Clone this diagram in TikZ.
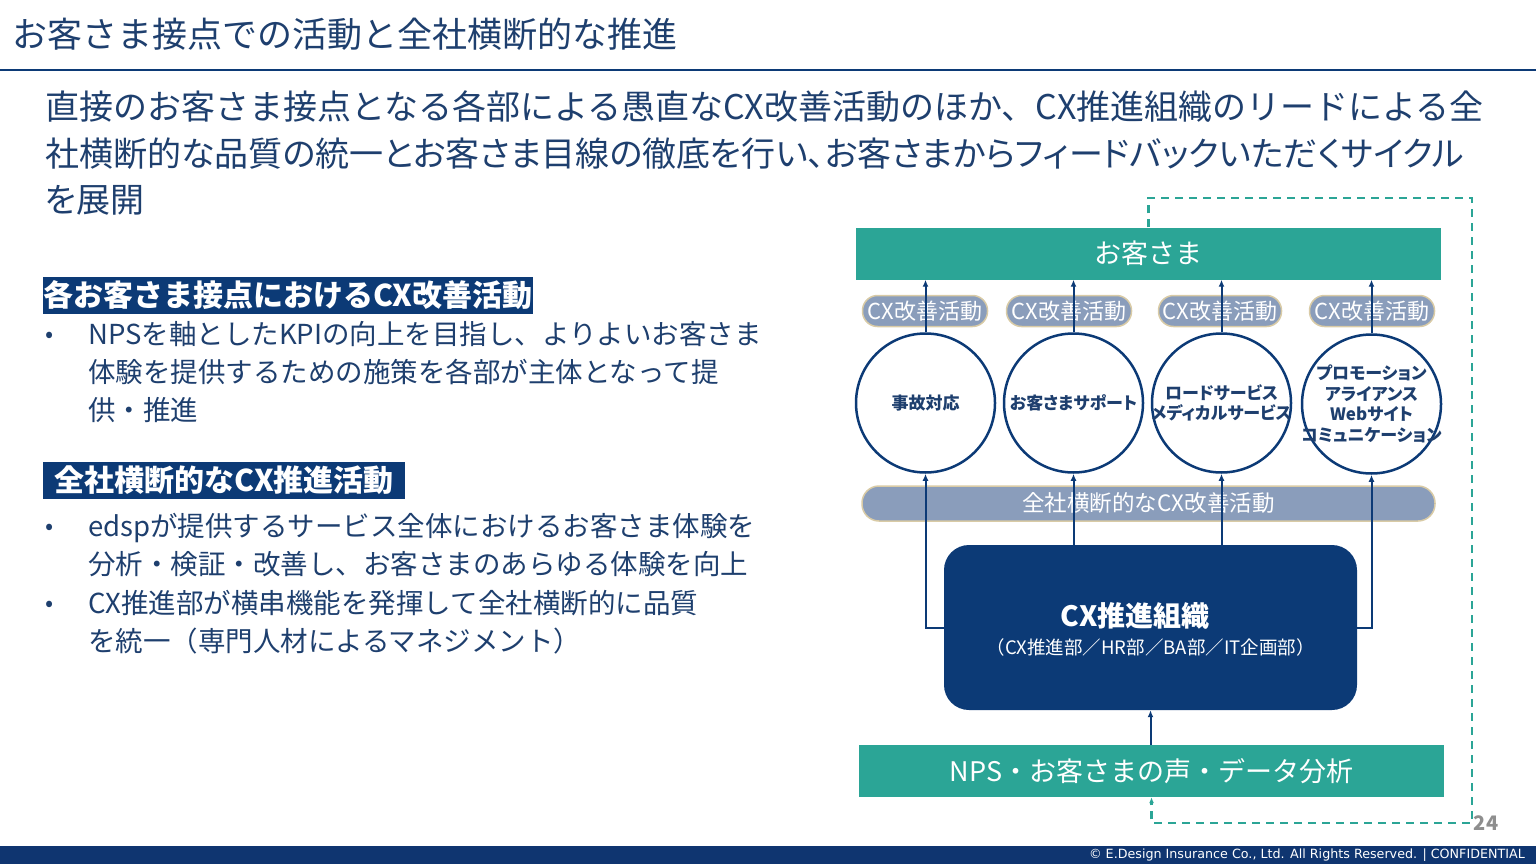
\documentclass[tikz,border=0pt]{standalone}
\usepackage{fontspec}
\setmainfont{Noto Sans CJK JP}
\newfontfamily\kanafont[RawFeature=+palt]{Noto Sans CJK JP}
\newfontfamily\footfont{DejaVu Sans}
\usetikzlibrary{arrows.meta, positioning}
\usepackage{xcolor}

\definecolor{navytext}{HTML}{1E3F6E}
\definecolor{navybox}{HTML}{0C3A76}
\definecolor{custteal}{HTML}{2BA596}
\definecolor{pillfill}{HTML}{8A9DBB}
\definecolor{pillrim}{HTML}{D9CBA6}
\definecolor{footbar}{HTML}{0F3570}
\definecolor{pagegray}{HTML}{8E8E8E}

\tikzset{
  bar/.style={fill=custteal, text=white, minimum height=52pt, minimum width=585pt,
    inner sep=0pt, font=\fontsize{27}{30}\selectfont},
  pill/.style={rounded corners=15pt, fill=pillfill, draw=pillrim, line width=1.5pt,
    text=white, inner sep=0pt, minimum height=31pt, font=\fontsize{22}{24}\selectfont},
  touch/.style={circle, draw=navybox, line width=2.5pt, minimum size=139pt, inner sep=-20pt,
    align=center, text=navytext, font=\kanafont\bfseries\fontsize{17}{20.5}\selectfont},
  head/.style={fill=navybox, text=white, anchor=west, inner sep=0pt, minimum height=37pt,
    font=\bfseries\fontsize{30}{32}\selectfont},
  body/.style={text=navytext, anchor=north west, inner sep=0pt, align=left},
  leadline/.style={text=navytext, anchor=base west, inner sep=0pt},
  dot/.style={text=navytext, inner sep=0pt, font=\fontsize{24}{24}\selectfont},
  arr/.style={draw=navybox, line width=2pt, -{Latex[length=7pt, width=6pt]}},
  fbline/.style={draw=custteal, line width=2.5pt, dash pattern=on 8pt off 6pt},
}

\begin{document}
\begin{tikzpicture}[x=1pt, y=-1pt]
  \useasboundingbox (0,0) rectangle (1536,864);

  % title and rule
  \node[text=navytext, anchor=base west, inner sep=0pt, font=\fontsize{35}{40}\selectfont]
    (title) at (12,48) {お客さま接点での活動と全社横断的な推進};
  \draw[navybox, line width=2pt] (0,70) -- (1536,70);

  % lead text
  \node[leadline, font=\fontsize{34}{46}\selectfont] (lead1) at (45,120)
    {直接のお客さま接点となる各部による愚直なCX改善活動のほか、CX推進組織のリードによる全};
  \node[leadline, font=\kanafont\fontsize{34}{46}\selectfont] (lead2) at (45,166)
    {社横断的な品質の統一とお客さま目線の徹底を行い、お客さまからフィードバックいただくサイクル};
  \node[leadline, font=\kanafont\fontsize{34}{46}\selectfont] (lead3) at (45,212) {を展開};

  % left column
  \node[head, minimum width=487pt] (headA) at (43,295.5) {各お客さま接点におけるCX改善活動};
  \node[dot] (dotA) at (50,337) {•};
  \node[body, font=\fontsize{27.5}{38}\selectfont] (textA) at (88,321)
    {NPSを軸としたKPIの向上を目指し、よりよいお客さま\\
     体験を提供するための施策を各部が主体となって提\\
     供・推進};

  \node[head, minimum width=362pt] (headB) at (43,480) {全社横断的なCX推進活動};
  \node[dot] (dotB) at (50,529) {•};
  \node[body, font=\fontsize{27.5}{38}\selectfont] (textB) at (88,513)
    {edspが提供するサービス全体におけるお客さま体験を\\
     分析・検証・改善し、お客さまのあらゆる体験を向上};
  \node[dot] (dotC) at (50,606) {•};
  \node[body, font=\fontsize{27.5}{38}\selectfont] (textC) at (88,590)
    {CX推進部が横串機能を発揮して全社横断的に品質\\
     を統一（専門人材によるマネジメント）};

  % diagram
  \node[bar] (cust) at (1148.5,253.5) {お客さま};
  \node[bar] (nps) at (1151.5,771) {NPS・お客さまの声・データ分析};

  \node[pill, minimum width=125pt] (p1) at (925,311) {CX改善活動};
  \node[pill, minimum width=125pt] (p2) at (1069,311) {CX改善活動};
  \node[pill, minimum width=123pt] (p3) at (1220,311) {CX改善活動};
  \node[pill, minimum width=125pt] (p4) at (1372,311) {CX改善活動};

  \node[touch] (c1) at (925.5,403) {事故対応};
  \node[touch] (c2) at (1073.5,403) {お客さまサポート};
  \node[touch] (c3) at (1221.5,403) {ロードサービス\\メディカルサービス};
  \node[touch] (c4) at (1371.5,404) {プロモーション\\アライアンス\\Webサイト\\コミュニケーション};

  \node[pill, minimum width=573pt, rounded corners=17pt, minimum height=35pt,
    font=\fontsize{22.5}{24}\selectfont] (cross) at (1148.5,503.5) {全社横断的なCX改善活動};

  \node[fill=navybox, rounded corners=25pt, minimum width=413pt, minimum height=165pt,
    inner sep=0pt] (org) at (1150.5,627.5) {};
  \node[text=white, font=\bfseries\fontsize{28}{30}\selectfont] (orgname)
    at (1135,616) {CX推進組織};
  \node[text=white, font=\fontsize{18.5}{20}\selectfont] (orgunits)
    at (1150.5,647) {（CX推進部／HR部／BA部／IT企画部）};

  % arrows up to the customer
  \draw[arr] (c1.north) -- (c1 |- cust.south);
  \draw[arr] (c2.north) -- (c2 |- cust.south);
  \draw[arr] (c3.north) -- (c3 |- cust.south);
  \draw[arr] (c4.north) -- (c4 |- cust.south);

  % arrows from the CX organisation
  \draw[arr] (org.west) -| (c1.south);
  \draw[arr] (c2 |- org.north) -- (c2.south);
  \draw[arr] (c3 |- org.north) -- (c3.south);
  \draw[arr] (org.east) -| (c4.south);
  \draw[arr] (nps.north -| org.south) -- (org.south);

  % feedback loop
  \coordinate (fbtop) at (1148.5,198);
  \coordinate (fbright) at (1472,198);
  \coordinate (fbcorner) at (1472,823);
  \coordinate (fbleft) at (1151.5,823);
  \node[text=pagegray, font=\bfseries\fontsize{20}{22}\selectfont, inner sep=0pt]
    (page) at (1486,823) {24};
  \draw[fbline, -{Latex[length=6pt, width=5pt]}] (cust.north) -- (fbtop) -- (fbright)
    -- (fbcorner) -- (fbleft) -- (nps.south);

  % footer
  \fill[footbar] (0,846) rectangle (1536,864);
  \node[text=white, anchor=east, inner sep=0pt, font=\footfont\fontsize{12.7}{13}\selectfont]
    (foot) at (1525,855) {© E.Design Insurance Co., Ltd. All Rights Reserved. | CONFIDENTIAL};
\end{tikzpicture}
\end{document}
